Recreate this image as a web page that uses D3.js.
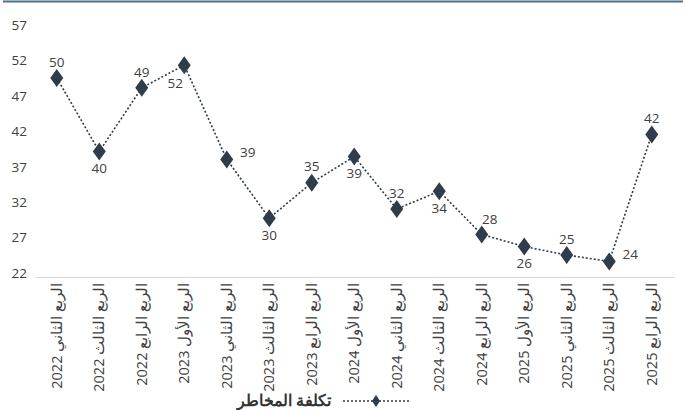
<!DOCTYPE html>
<html lang="ar">
<head>
<meta charset="utf-8">
<script src="https://cdn.jsdelivr.net/npm/d3@7"></script>
<style>
  html, body { margin: 0; padding: 0; background: #ffffff; }
  svg { display: block; font-family: "Open Sans", "Noto Sans", sans-serif; }
</style>
</head>
<body>
<svg id="chart" width="686" height="410"></svg>
<script>
// Quarterly risk cost
const quarters = [
  "الربع الثاني 2022", "الربع الثالث 2022", "الربع الرابع 2022",
  "الربع الأول 2023", "الربع الثاني 2023", "الربع الثالث 2023", "الربع الرابع 2023",
  "الربع الأول 2024", "الربع الثاني 2024", "الربع الثالث 2024", "الربع الرابع 2024",
  "الربع الأول 2025", "الربع الثاني 2025", "الربع الثالث 2025", "الربع الرابع 2025"
];
const riskCost = [50.1, 39.7, 48.7, 51.9, 38.6, 30.3, 35.3, 39.0, 31.6, 34.1, 28.0, 26.3, 25.1, 24.2, 42.1];
const yTicks = [22, 27, 32, 37, 42, 47, 52, 57];
const seriesName = "تكلفة المخاطر";

// Where each value label sits relative to its marker
const labelPlace = ["t", "b", "t", "bl", "r", "b", "t", "b", "t", "b", "tr", "b", "t", "r", "t"];

const ink = "#2e3d49";
const textCol = "#404040";

const svg = d3.select("#chart");

// Frame rule along the top
svg.append("line")
  .attr("x1", 3).attr("x2", 683).attr("y1", 1.5).attr("y2", 1.5)
  .attr("stroke", "#4b7186").attr("stroke-width", 2);

const plot = { left: 35.5, right: 673, top: 29, bottom: 277 };

const x = d3.scaleBand().domain(quarters).range([plot.left, plot.right]);
const y = d3.scaleLinear().domain([22, 57]).range([plot.bottom, plot.top]);
const cx = q => x(q) + x.bandwidth() / 2;

// Y axis labels (no axis line)
const yAxis = d3.axisLeft(y).tickValues(yTicks).tickSize(0).tickPadding(0);
const gy = svg.append("g").attr("transform", `translate(27,-4)`).call(yAxis);
gy.select(".domain").remove();
gy.selectAll("text")
  .attr("fill", textCol)
  .style("font-size", "13.5px")
  .style("font-family", "'Open Sans', sans-serif");

// X axis: baseline and rotated category labels
const xAxis = d3.axisBottom(x).tickSize(0).tickPadding(0);
const gx = svg.append("g").attr("transform", `translate(0,${plot.bottom})`).call(xAxis);
gx.select(".domain").attr("stroke", "#d9d9d9").attr("stroke-width", 1.2)
  .attr("d", `M${plot.left},0.5H${plot.right + 2}`);
gx.selectAll(".tick text")
  .attr("fill", textCol)
  .style("font-size", "14.5px")
  .style("font-family", "'Open Sans', 'Noto Sans', sans-serif")
  .attr("text-anchor", "end")
  .attr("dy", "0.35em")
  .attr("transform", "translate(0,6) rotate(-90)");

// Dotted connecting line
const line = d3.line()
  .x((d, i) => cx(quarters[i]))
  .y(d => y(d));
svg.append("path")
  .datum(riskCost)
  .attr("d", line)
  .attr("fill", "none")
  .attr("stroke", ink)
  .attr("stroke-width", 1.6)
  .attr("stroke-dasharray", "2,2");

// Diamond markers
const diamond = (w, h) => `M0,${-h / 2}L${w / 2},0L0,${h / 2}L${-w / 2},0Z`;
svg.append("g").selectAll("path")
  .data(riskCost)
  .join("path")
  .attr("transform", (d, i) => `translate(${cx(quarters[i])},${y(d)})`)
  .attr("d", diamond(13, 18))
  .attr("fill", ink);

// Value labels
const offs = {
  t: [0, -16], b: [0, 17], r: [21, -7], bl: [-9, 18], tr: [8, -15]
};
svg.append("g").selectAll("text")
  .data(riskCost)
  .join("text")
  .attr("x", (d, i) => cx(quarters[i]) + offs[labelPlace[i]][0])
  .attr("y", (d, i) => y(d) + offs[labelPlace[i]][1])
  .attr("dy", "0.35em")
  .attr("text-anchor", "middle")
  .attr("fill", textCol)
  .style("font-size", "13.5px")
  .text(d => d3.format(".0f")(d));

// Legend
const lg = svg.append("g");
lg.append("line")
  .attr("x1", 343).attr("x2", 409).attr("y1", 401).attr("y2", 401)
  .attr("stroke", ink).attr("stroke-width", 1.6).attr("stroke-dasharray", "2,2");
lg.append("path")
  .attr("transform", "translate(376,401)")
  .attr("d", diamond(8, 12))
  .attr("fill", ink);
lg.append("text")
  .attr("x", 331).attr("y", 401).attr("dy", "0.35em")
  .attr("text-anchor", "end")
  .attr("fill", "#333333")
  .style("font-size", "15.5px")
  .style("font-weight", "bold")
  .style("font-family", "'Noto Sans', 'Open Sans', sans-serif")
  .text(seriesName);
</script>
</body>
</html>
